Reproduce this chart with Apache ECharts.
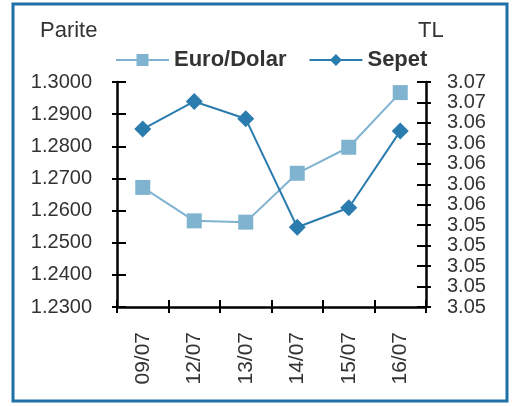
<!DOCTYPE html>
<html>
<head>
<meta charset="utf-8">
<script src="https://cdn.jsdelivr.net/npm/echarts@6/dist/echarts.min.js"></script>
<style>
  html, body { margin: 0; padding: 0; background: #fff; }
  #chart { width: 520px; height: 406px; }
</style>
</head>
<body>
<div id="chart"></div>
<script>
// Dates on the category axis
const dates = ['09/07', '12/07', '13/07', '14/07', '15/07', '16/07'];
// EUR/USD parity (left axis)
const euroDolar = [1.2672, 1.2568, 1.2564, 1.2716, 1.2797, 1.2967];
// Basket value in TL (right axis)
const sepet = [3.0634, 3.0661, 3.0644, 3.0538, 3.0557, 3.0632];

// Axis ranges
const leftMin = 1.23, leftMax = 1.30, leftStep = 0.01;
const rightMin = 3.046, rightMax = 3.068, rightStep = 0.002;

const FONT = "'Liberation Sans', Arial, sans-serif";
const TEXT = '#333333';
const LIGHT = '#80b3d0';
const DARK = '#2a7cae';

const chart = echarts.init(document.getElementById('chart'));

const axisLine = { show: true, lineStyle: { color: '#000', width: 2.5 } };
const tickStyle = { color: '#000', width: 2 };

function valueAxis(pos, min, max, step, withLabels, fmt) {
  return {
    type: 'value',
    position: pos,
    min: min, max: max, interval: step,
    axisLine: withLabels ? axisLine : { show: false },
    axisTick: withLabels
      ? { show: true, inside: false, length: 5, lineStyle: tickStyle }
      : { show: true, inside: true, length: 9, lineStyle: tickStyle },
    axisLabel: withLabels
      ? { show: true, margin: pos === 'left' ? 25 : 21, color: TEXT, fontSize: 20, fontFamily: FONT, formatter: fmt }
      : { show: false },
    splitLine: { show: false }
  };
}

function catAxis(withLabels) {
  return {
    type: 'category',
    position: 'bottom',
    data: dates,
    boundaryGap: true,
    axisLine: withLabels ? axisLine : { show: false },
    axisTick: withLabels
      ? { show: true, inside: false, length: 6, alignWithLabel: false, lineStyle: tickStyle }
      : { show: true, inside: true, length: 7, alignWithLabel: false, lineStyle: tickStyle },
    axisLabel: withLabels
      ? { show: true, rotate: 90, margin: 25, color: TEXT, fontSize: 21, fontFamily: FONT }
      : { show: false },
    splitLine: { show: false }
  };
}

chart.setOption({
  backgroundColor: '#fff',
  animation: false,
  grid: { left: 117, right: 94, top: 82, bottom: 99, containLabel: false },
  legend: {
    top: 44,
    left: 110,
    itemWidth: 53,
    itemHeight: 15,
    itemGap: 22,
    textStyle: { color: TEXT, fontSize: 22, fontWeight: 'bold', fontFamily: FONT },
    data: ['Euro/Dolar', 'Sepet']
  },
  xAxis: [catAxis(true), catAxis(false)],
  yAxis: [
    valueAxis('left', leftMin, leftMax, leftStep, true, v => v.toFixed(4)),
    valueAxis('right', rightMin, rightMax, rightStep, true, v => v.toFixed(2)),
    valueAxis('left', leftMin, leftMax, leftStep, false),
    valueAxis('right', rightMin, rightMax, rightStep, false)
  ],
  series: [
    {
      name: 'Euro/Dolar',
      type: 'line',
      data: euroDolar,
      xAxisIndex: 0,
      yAxisIndex: 0,
      symbol: 'rect',
      symbolSize: 15,
      lineStyle: { color: LIGHT, width: 2 },
      itemStyle: { color: LIGHT }
    },
    {
      name: 'Sepet',
      type: 'line',
      data: sepet,
      xAxisIndex: 0,
      yAxisIndex: 1,
      symbol: 'diamond',
      symbolSize: 17,
      lineStyle: { color: DARK, width: 2 },
      itemStyle: { color: DARK }
    }
  ],
  graphic: [
    {
      type: 'rect',
      shape: { x: 13, y: 4, width: 494, height: 397 },
      style: { fill: 'none', stroke: '#2071a8', lineWidth: 3 },
      silent: true
    },
    {
      type: 'text',
      left: 40, top: 20,
      style: { text: 'Parite', fill: TEXT, font: '22px ' + FONT }
    },
    {
      type: 'text',
      left: 418, top: 20,
      style: { text: 'TL', fill: TEXT, font: '22px ' + FONT }
    }
  ]
});
</script>
</body>
</html>
